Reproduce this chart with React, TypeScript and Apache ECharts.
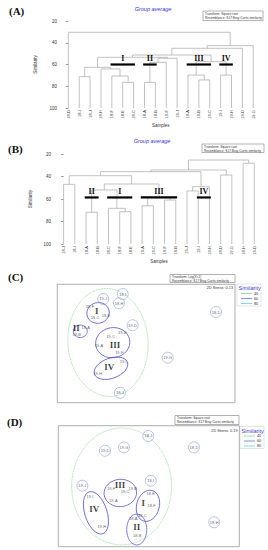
import React, { useEffect, useRef } from 'react';
import * as echarts from 'echarts';

// ---------- Panel A dendrogram ----------
const leavesA = ['18-D', '18-I', '18-J', '18-H', '18-F', '18-E', '18-C', '18-A', '18-B', '19-F', '19-J', '19-A', '19-B', '19-C', '19-I', '19-H', '19-D', '19-G'];
// [childA, childB, similarity]; child < 18 = leaf, child >= 18 = earlier merge (18 + k)
const mergesA: [number, number, number][] = [
  [1, 2, 71.2], [5, 6, 76.4], [4, 19, 70.6], [3, 20, 64.1], [18, 21, 62.6],
  [7, 8, 76.4], [23, 9, 58.0], [24, 10, 54.3], [22, 25, 53.4],
  [12, 13, 74.2], [11, 27, 69.7], [14, 15, 69.7], [28, 29, 57.4],
  [26, 30, 51.3], [31, 16, 45.1], [32, 17, 42.7], [0, 33, 30.4],
];
const groupNamesA = ['I', 'II', 'III', 'IV'];
const groupSpansA: [number, number][] = [[4, 6], [7, 8], [11, 13], [14, 15]];
const groupCutA = 60;

// ---------- Panel B dendrogram ----------
const leavesB = ['18-J', '18-I', '18-A', '18-B', '18-C', '18-F', '18-E', '19-A', '19-C', '19-F', '19-B', '19-J', '19-I', '19-H', '18-D', '19-G', '18-H', '19-D'];
const mergesB: [number, number, number][] = [
  [0, 1, 46.8], [2, 3, 71.7], [5, 6, 71.2], [4, 20, 68.2], [19, 21, 51.8],
  [7, 8, 65.9], [9, 10, 60.8], [23, 24, 58.7], [22, 25, 46.5], [18, 26, 39.1],
  [11, 12, 52.7], [28, 13, 48.9], [27, 29, 35.5], [14, 15, 38.5], [30, 31, 34.0],
  [16, 17, 28.0], [32, 33, 25.1],
];
const groupNamesB = ['II', 'I', 'III', 'IV'];
const groupSpansB: [number, number][] = [[2, 3], [4, 6], [7, 10], [12, 13]];
const groupCutB = 58.5;

const simTicks = [20, 40, 60, 80, 100];

// ---------- Panel C nMDS ----------
const pointsC: [string, number, number][] = [
  ['18-I', 0.552, 0.918], ['19-J', 0.388, 0.876], ['18-H', 0.521, 0.840], ['18-F', 0.276, 0.814],
  ['18-C', 0.318, 0.718], ['18-E', 0.411, 0.735], ['18-D', 1.340, 0.766], ['18-A', 0.240, 0.637],
  ['18-B', 0.164, 0.576], ['19-D', 0.636, 0.654], ['19-C', 0.451, 0.557], ['19-B', 0.549, 0.589],
  ['19-A', 0.352, 0.485], ['19-F', 0.523, 0.426], ['19-G', 0.932, 0.380], ['19-I', 0.557, 0.352],
  ['19-H', 0.341, 0.245], ['18-J', 0.529, 0.084],
];
const singletonsC = ['18-I', '19-J', '18-H', '18-D', '19-D', '19-G', '18-J'];
const numeralsC: [string, number, number][] = [['I', 0.333, 0.775], ['II', 0.160, 0.632], ['III', 0.487, 0.487], ['IV', 0.439, 0.299]];
// [cx, cy, rx, ry, rotationDeg, level(0=40%,1=60%)]
const contoursC: number[][] = [
  [0.428, 0.509, 0.338, 0.456, 4, 0],
  [0.344, 0.758, 0.095, 0.087, 15, 1],
  [0.194, 0.603, 0.059, 0.053, 0, 1],
  [0.468, 0.507, 0.145, 0.127, 10, 1],
  [0.453, 0.291, 0.148, 0.085, 20, 1],
];

// ---------- Panel D nMDS ----------
const pointsD: [string, number, number][] = [
  ['18-J', 0.746, 0.915], ['19-D', 0.387, 0.793], ['19-G', 0.544, 0.821], ['18-D', 1.124, 0.821],
  ['18-I', 0.766, 0.545], ['19-J', 0.199, 0.504], ['19-F', 0.437, 0.479], ['19-C', 0.553, 0.460],
  ['19-B', 0.616, 0.479], ['18-E', 0.766, 0.436], ['19-I', 0.263, 0.419], ['19-A', 0.456, 0.380],
  ['18-F', 0.774, 0.339], ['18-A', 0.621, 0.235], ['18-C', 0.696, 0.254], ['19-H', 0.360, 0.171],
  ['18-B', 0.654, 0.091], ['18-H', 1.292, 0.202],
];
const singletonsD = ['18-J', '19-D', '19-G', '18-D', '18-I', '19-J', '18-H'];
const numeralsD: [string, number, number][] = [['III', 0.511, 0.510], ['I', 0.704, 0.359], ['IV', 0.298, 0.309], ['II', 0.650, 0.160]];
const contoursD: number[][] = [
  [0.525, 0.498, 0.414, 0.483, 0, 0],
  [0.514, 0.444, 0.135, 0.113, 5, 1],
  [0.743, 0.338, 0.094, 0.131, -15, 1],
  [0.312, 0.280, 0.092, 0.182, 18, 1],
  [0.650, 0.142, 0.083, 0.128, 0, 1],
];

const contourColors = ['#6fd66f', '#5a5ae0', '#44d0d0'];
const FONT = '"Liberation Sans", Arial, sans-serif';
const SERIF = '"Liberation Serif", "Times New Roman", serif';

function linkSegments(merges: [number, number, number][], nLeaves: number) {
  const pos: number[] = [];
  const h: number[] = [];
  for (let i = 0; i < nLeaves; i++) { pos[i] = i; h[i] = 100; }
  const out: number[][] = [];
  merges.forEach(([a, b, s], k) => {
    out.push([pos[a], h[a], pos[b], h[b], s]);
    pos[nLeaves + k] = (pos[a] + pos[b]) / 2;
    h[nLeaves + k] = s;
  });
  return out;
}

function dendroSeries(merges: [number, number, number][], n: number, xi: number, yi: number) {
  return {
    type: 'custom', xAxisIndex: xi, yAxisIndex: yi, silent: true,
    data: linkSegments(merges, n),
    renderItem: (_p: any, api: any) => {
      const xa = api.value(0), ya = api.value(1), xb = api.value(2), yb = api.value(3), s = api.value(4);
      const pts = [api.coord([xa, ya]), api.coord([xa, s]), api.coord([xb, s]), api.coord([xb, yb])];
      return { type: 'polyline', shape: { points: pts }, style: { stroke: '#a8a8a8', lineWidth: 0.7, fill: null } };
    },
  };
}

function groupBarSeries(spans: [number, number][], names: string[], cut: number, xi: number, yi: number) {
  return {
    type: 'custom', xAxisIndex: xi, yAxisIndex: yi, silent: true, z: 5,
    data: spans.map(([a, b]) => [a, b, cut]),
    renderItem: (p: any, api: any) => {
      const a = api.coord([api.value(0) - 0.12, api.value(2)]);
      const b = api.coord([api.value(1) + 0.12, api.value(2)]);
      return {
        type: 'group', children: [
          { type: 'line', shape: { x1: a[0], y1: a[1], x2: b[0], y2: b[1] }, style: { stroke: '#000', lineWidth: 2.2 } },
          { type: 'text', x: (a[0] + b[0]) / 2, y: a[1] - 2, style: { text: names[p.dataIndex], align: 'center', verticalAlign: 'bottom', fontSize: 8, fontWeight: 'bold', fontFamily: SERIF, fill: '#111' } },
        ],
      };
    },
  };
}

function contourSeries(contours: number[][], xi: number, yi: number) {
  return {
    type: 'custom', xAxisIndex: xi, yAxisIndex: yi, silent: true,
    data: contours,
    renderItem: (_p: any, api: any) => {
      const c = api.coord([api.value(0), api.value(1)]);
      const sz = api.size([api.value(2), api.value(3)]);
      const lvl = api.value(5);
      return {
        type: 'ellipse', x: c[0], y: c[1], rotation: (api.value(4) * Math.PI) / 180,
        shape: { cx: 0, cy: 0, rx: sz[0], ry: sz[1] },
        style: { fill: 'none', stroke: contourColors[lvl], lineWidth: lvl === 0 ? 0.6 : 0.8, lineDash: lvl === 0 ? [1, 0.6] : null },
      };
    },
  };
}

function labelSeries(points: [string, number, number][], xi: number, yi: number) {
  return {
    type: 'scatter', xAxisIndex: xi, yAxisIndex: yi, silent: true, symbolSize: 1,
    itemStyle: { color: 'transparent' },
    data: points.map(([n, x, y]) => ({ name: n, value: [x, y] })),
    label: { show: true, position: 'inside', formatter: '{b}', fontSize: 4, color: '#333', fontFamily: FONT },
    z: 4,
  };
}

function ringSeries(points: [string, number, number][], names: string[], xi: number, yi: number) {
  const sel = points.filter((p) => names.includes(p[0]));
  return {
    type: 'scatter', xAxisIndex: xi, yAxisIndex: yi, silent: true, symbol: 'circle', symbolSize: 11,
    itemStyle: { color: 'transparent', borderColor: '#7b93e6', borderWidth: 0.7 },
    data: sel.map(([n, x, y]) => ({ name: n, value: [x, y] })),
    z: 3,
  };
}

function numeralSeries(nums: [string, number, number][], xi: number, yi: number) {
  return {
    type: 'scatter', xAxisIndex: xi, yAxisIndex: yi, silent: true, symbolSize: 1,
    itemStyle: { color: 'transparent' },
    data: nums.map(([n, x, y]) => ({ name: n, value: [x, y] })),
    label: { show: true, position: 'inside', formatter: '{b}', fontSize: 9, fontWeight: 'bold', color: '#111', fontFamily: SERIF },
    z: 6,
  };
}

function catAxis(leaves: string[], grid: number) {
  return {
    type: 'category', gridIndex: grid, data: leaves, boundaryGap: true,
    axisLine: { show: false }, axisTick: { show: false },
    axisLabel: { rotate: 90, fontSize: 4, margin: 2, color: '#333', interval: 0, fontFamily: FONT },
    name: 'Samples', nameLocation: 'middle', nameGap: 14,
    nameTextStyle: { fontSize: 4.5, color: '#333', fontFamily: FONT },
  };
}
function valXAxis(n: number, grid: number) {
  return { type: 'value', gridIndex: grid, min: -0.5, max: n - 0.5, show: false };
}
function simAxis(grid: number, offset: number) {
  return {
    type: 'value', gridIndex: grid, inverse: true, min: 20, max: 100, interval: 20, offset,
    axisLine: { show: false }, splitLine: { show: false },
    axisTick: { show: true, length: 2.5, lineStyle: { color: '#555', width: 0.6 } },
    axisLabel: { fontSize: 4.5, margin: 2, color: '#333', fontFamily: FONT, formatter: (v: number) => (simTicks.includes(v) ? String(v) : '') },
    name: 'Similarity', nameLocation: 'middle', nameGap: 13,
    nameTextStyle: { fontSize: 4.5, color: '#333', fontFamily: FONT },
  };
}

function infoBox(x: number, y: number, w: number, h: number, lines: string[]) {
  return {
    type: 'group', x, y, children: [
      { type: 'rect', shape: { x: 0, y: 0, width: w, height: h }, style: { fill: '#fff', stroke: '#666', lineWidth: 0.5 } },
      ...lines.map((t, i) => ({ type: 'text', x: 2, y: 1.2 + i * 3.6, style: { text: t, fontSize: 3.2, fill: '#333', fontFamily: FONT } })),
    ],
  };
}

function simLegend(x: number, y: number) {
  const labels = ['40', '60', '80'];
  return {
    type: 'group', x, y, children: [
      { type: 'rect', shape: { x: 0, y: 0, width: 24, height: 22 }, style: { fill: '#fff', stroke: '#bbb', lineWidth: 0.4 } },
      { type: 'text', x: 1.5, y: 1.2, style: { text: 'Similarity', fontSize: 5.5, fill: '#3a3ae0', fontFamily: FONT } },
      ...labels.flatMap((t, i) => [
        { type: 'line', shape: { x1: 4, y1: 9.5 + i * 5, x2: 15, y2: 9.5 + i * 5 }, style: { stroke: contourColors[i], lineWidth: 0.7 } },
        { type: 'text', x: 17, y: 9.5 + i * 5, style: { text: t, fontSize: 3.8, fill: '#333', verticalAlign: 'middle', fontFamily: FONT } },
      ]),
    ],
  };
}

export default function App() {
  const ref = useRef<HTMLDivElement>(null);
  useEffect(() => {
    document.body.style.margin = '0';
    const chart = echarts.init(ref.current!, null, { renderer: 'svg' });
    const panelLabel = (t: string, x: number, y: number) => ({
      type: 'text', x, y, style: { text: t, fontSize: 11, fontWeight: 'bold', fontFamily: SERIF, fill: '#111', verticalAlign: 'middle' },
    });
    const groupTitle = (x: number, y: number) => ({
      type: 'text', x, y, style: { text: 'Group average', fontSize: 5.5, fontStyle: 'italic', fill: '#2f2ff5', align: 'center', verticalAlign: 'middle', fontFamily: FONT },
    });
    const option: any = {
      animation: false,
      textStyle: { fontFamily: FONT },
      grid: [
        { left: 62.9, top: 21, width: 195.8, height: 87 },
        { left: 58, top: 154.3, width: 201.9, height: 89.7 },
        { left: 57.3, top: 284.3, width: 177.7, height: 118.4, show: true, borderColor: '#999', borderWidth: 0.8 },
        { left: 58.3, top: 425.7, width: 181, height: 121, show: true, borderColor: '#999', borderWidth: 0.8 },
      ],
      xAxis: [
        catAxis(leavesA, 0),
        valXAxis(leavesA.length, 0),
        catAxis(leavesB, 1),
        valXAxis(leavesB.length, 1),
        { type: 'value', gridIndex: 2, min: 0, max: 1.5, show: false },
        { type: 'value', gridIndex: 3, min: 0, max: 1.5, show: false },
      ],
      yAxis: [
        simAxis(0, 4),
        simAxis(1, 5),
        { type: 'value', gridIndex: 2, min: 0, max: 1, show: false },
        { type: 'value', gridIndex: 3, min: 0, max: 1, show: false },
      ],
      series: [
        dendroSeries(mergesA, leavesA.length, 1, 0),
        groupBarSeries(groupSpansA, groupNamesA, groupCutA, 1, 0),
        dendroSeries(mergesB, leavesB.length, 3, 1),
        groupBarSeries(groupSpansB, groupNamesB, groupCutB, 3, 1),
        contourSeries(contoursC, 4, 2),
        ringSeries(pointsC, singletonsC, 4, 2),
        labelSeries(pointsC, 4, 2),
        numeralSeries(numeralsC, 4, 2),
        contourSeries(contoursD, 5, 3),
        ringSeries(pointsD, singletonsD, 5, 3),
        labelSeries(pointsD, 5, 3),
        numeralSeries(numeralsD, 5, 3),
      ],
      graphic: [
        panelLabel('(A)', 9, 11),
        panelLabel('(B)', 8, 148.5),
        panelLabel('(C)', 8, 277),
        panelLabel('(D)', 7, 422),
        groupTitle(153, 9),
        groupTitle(152, 140.5),
        infoBox(203, 11, 60, 9.5, ['Transform: Square root', 'Resemblance: S17 Bray Curtis similarity']),
        infoBox(202, 144, 62, 8.5, ['Transform: Square root', 'Resemblance: S17 Bray Curtis similarity']),
        infoBox(170, 274.5, 65, 8, ['Transform: Log(X+1)', 'Resemblance: S17 Bray Curtis similarity']),
        infoBox(175, 415.5, 64, 9, ['Transform: Square root', 'Resemblance: S17 Bray Curtis similarity']),
        { type: 'text', x: 233, y: 288, style: { text: '2D Stress: 0.13', fontSize: 3.8, fill: '#333', align: 'right', verticalAlign: 'middle', fontFamily: FONT } },
        { type: 'text', x: 237.5, y: 430.5, style: { text: '2D Stress: 0.19', fontSize: 3.8, fill: '#333', align: 'right', verticalAlign: 'middle', fontFamily: FONT } },
        simLegend(237, 284),
        simLegend(240, 426.5),
      ],
    };
    chart.setOption(option);
    return () => chart.dispose();
  }, []);
  return <div ref={ref} style={{ width: 268, height: 550 }} />;
}
